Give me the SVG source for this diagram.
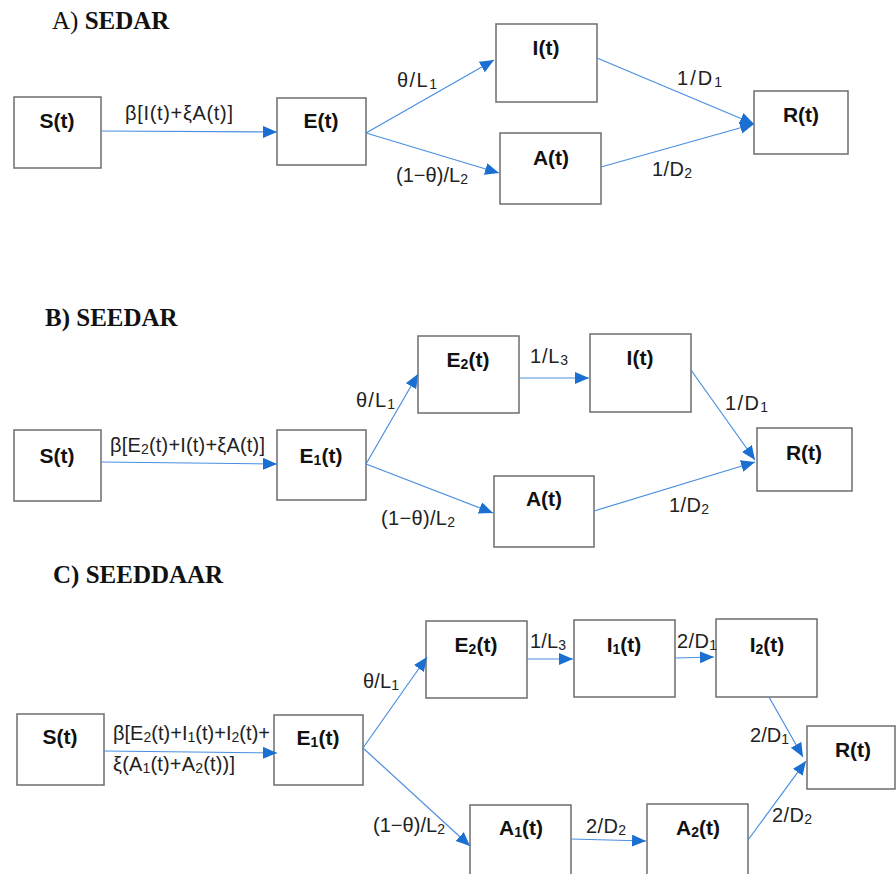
<svg xmlns="http://www.w3.org/2000/svg" width="896" height="874" viewBox="0 0 896 874">
<defs>
<marker id="ah" markerUnits="userSpaceOnUse" markerWidth="15" markerHeight="13" refX="14" refY="6" orient="auto">
<path d="M0,0 L14,6 L0,12 z" fill="#1a6fd0"/>
</marker>
<style>
.box{fill:#fff;stroke:#6d6d6d;stroke-width:1.5}
.nl{font-family:"Liberation Sans",Arial,sans-serif;font-weight:bold;font-size:21px;fill:#111;text-anchor:middle}
.el{font-family:"Liberation Sans",Arial,sans-serif;font-size:20px;fill:#222}
.sub{font-size:14px}
.ttl{font-family:"Liberation Serif","Times New Roman",serif;font-size:25px;fill:#111}
.b{font-weight:bold}
.cn line{stroke:#4a8fe0;stroke-width:1.2;marker-end:url(#ah)}
</style>
</defs>
<rect width="896" height="874" fill="#fff"/>

<!-- Titles -->
<text class="ttl" x="52" y="29">A)  <tspan class="b">SEDAR</tspan></text>
<text class="ttl b" x="45" y="326">B) SEEDAR</text>
<text class="ttl b" x="53" y="583">C) SEEDDAAR</text>

<!-- Section A nodes -->
<g id="A_S"><rect class="box" x="14" y="97" width="87" height="71"/><text class="nl" x="57" y="128">S(t)</text></g>
<g id="A_E"><rect class="box" x="277" y="98" width="89" height="67"/><text class="nl" x="321" y="128">E(t)</text></g>
<g id="A_I"><rect class="box" x="496" y="24" width="101" height="78"/><text class="nl" x="546" y="55">I(t)</text></g>
<g id="A_A"><rect class="box" x="500" y="133" width="101" height="71"/><text class="nl" x="551" y="165">A(t)</text></g>
<g id="A_R"><rect class="box" x="754" y="91" width="94" height="63"/><text class="nl" x="801" y="122">R(t)</text></g>

<!-- Section B nodes -->
<g id="B_S"><rect class="box" x="14" y="430" width="87" height="71"/><text class="nl" x="57" y="463">S(t)</text></g>
<g id="B_E1"><rect class="box" x="277" y="430" width="89" height="70"/><text class="nl" x="321" y="463">E<tspan class="sub" dy="2">1</tspan><tspan dy="-2">(t)</tspan></text></g>
<g id="B_E2"><rect class="box" x="418" y="336" width="101" height="77"/><text class="nl" x="468" y="367">E<tspan class="sub" dy="2">2</tspan><tspan dy="-2">(t)</tspan></text></g>
<g id="B_I"><rect class="box" x="590" y="334" width="101" height="78"/><text class="nl" x="640" y="365">I(t)</text></g>
<g id="B_A"><rect class="box" x="494" y="476" width="100" height="71"/><text class="nl" x="544" y="506">A(t)</text></g>
<g id="B_R"><rect class="box" x="757" y="428" width="95" height="63"/><text class="nl" x="804" y="460">R(t)</text></g>

<!-- Section C nodes -->
<g id="C_S"><rect class="box" x="17" y="714" width="87" height="71"/><text class="nl" x="60" y="744">S(t)</text></g>
<g id="C_E1"><rect class="box" x="274" y="715" width="89" height="70"/><text class="nl" x="318" y="745">E<tspan class="sub" dy="2">1</tspan><tspan dy="-2">(t)</tspan></text></g>
<g id="C_E2"><rect class="box" x="426" y="621" width="101" height="77"/><text class="nl" x="476" y="652">E<tspan class="sub" dy="2">2</tspan><tspan dy="-2">(t)</tspan></text></g>
<g id="C_I1"><rect class="box" x="574" y="620" width="101" height="77"/><text class="nl" x="624" y="652">I<tspan class="sub" dy="2">1</tspan><tspan dy="-2">(t)</tspan></text></g>
<g id="C_I2"><rect class="box" x="716" y="619" width="101" height="78"/><text class="nl" x="767" y="652">I<tspan class="sub" dy="2">2</tspan><tspan dy="-2">(t)</tspan></text></g>
<g id="C_A1"><rect class="box" x="470" y="805" width="101" height="80"/><text class="nl" x="521" y="835">A<tspan class="sub" dy="2">1</tspan><tspan dy="-2">(t)</tspan></text></g>
<g id="C_A2"><rect class="box" x="647" y="804" width="101" height="80"/><text class="nl" x="698" y="835">A<tspan class="sub" dy="2">2</tspan><tspan dy="-2">(t)</tspan></text></g>
<g id="C_R"><rect class="box" x="807" y="726" width="88" height="63"/><text class="nl" x="853" y="757">R(t)</text></g>

<!-- Connectors -->
<g id="connectors" class="cn">
<line x1="101" y1="131" x2="277" y2="132"/>
<line x1="366" y1="133" x2="494" y2="60"/>
<line x1="366" y1="133" x2="499" y2="173"/>
<line x1="597" y1="58" x2="754" y2="124"/>
<line x1="601" y1="167" x2="754" y2="124"/>

<line x1="101" y1="462" x2="277" y2="464"/>
<line x1="366" y1="464" x2="418" y2="374"/>
<line x1="366" y1="464" x2="493" y2="513"/>
<line x1="519" y1="378" x2="589" y2="378"/>
<line x1="691" y1="370" x2="755" y2="460"/>
<line x1="594" y1="511" x2="755" y2="462"/>

<line x1="104" y1="751" x2="277" y2="753"/>
<line x1="363" y1="748" x2="427" y2="657"/>
<line x1="363" y1="748" x2="470" y2="846"/>
<line x1="527" y1="659" x2="573" y2="659"/>
<line x1="675" y1="658" x2="714" y2="657"/>
<line x1="769" y1="697" x2="803" y2="757"/>
<line x1="571" y1="839" x2="646" y2="841"/>
<line x1="748" y1="840" x2="806" y2="761"/>
</g>

<!-- Edge labels -->
<g id="labels">
<text class="el" x="125" y="120" textLength="108">β[I(t)+ξA(t)]</text>
<text class="el" x="397" y="87" textLength="40">θ/L<tspan class="sub" dy="2">1</tspan></text>
<text class="el" x="396" y="182" textLength="72">(1−θ)/L<tspan class="sub" dy="2">2</tspan></text>
<text class="el" x="677" y="85" textLength="45">1/D<tspan class="sub" dy="2">1</tspan></text>
<text class="el" x="652" y="176" textLength="40">1/D<tspan class="sub" dy="2">2</tspan></text>

<text class="el" x="110" y="452" textLength="155">β[E<tspan class="sub" dy="2">2</tspan><tspan dy="-2">(t)+I(t)+ξA(t)]</tspan></text>
<text class="el" x="356" y="407" textLength="39">θ/L<tspan class="sub" dy="2">1</tspan></text>
<text class="el" x="381" y="525" textLength="74">(1−θ)/L<tspan class="sub" dy="2">2</tspan></text>
<text class="el" x="530" y="363" textLength="38">1/L<tspan class="sub" dy="2">3</tspan></text>
<text class="el" x="725" y="410" textLength="43">1/D<tspan class="sub" dy="2">1</tspan></text>
<text class="el" x="669" y="512" textLength="40">1/D<tspan class="sub" dy="2">2</tspan></text>

<text class="el" x="113" y="740" textLength="157">β[E<tspan class="sub" dy="2">2</tspan><tspan dy="-2">(t)+I</tspan><tspan class="sub" dy="2">1</tspan><tspan dy="-2">(t)+I</tspan><tspan class="sub" dy="2">2</tspan><tspan dy="-2">(t)+</tspan></text>
<text class="el" x="113" y="771" textLength="122">ξ(A<tspan class="sub" dy="2">1</tspan><tspan dy="-2">(t)+A</tspan><tspan class="sub" dy="2">2</tspan><tspan dy="-2">(t))]</tspan></text>
<text class="el" x="363" y="688" textLength="36">θ/L<tspan class="sub" dy="2">1</tspan></text>
<text class="el" x="373" y="832" textLength="72">(1−θ)/L<tspan class="sub" dy="2">2</tspan></text>
<text class="el" x="530" y="648" textLength="36">1/L<tspan class="sub" dy="2">3</tspan></text>
<text class="el" x="677" y="648" textLength="40">2/D<tspan class="sub" dy="2">1</tspan></text>
<text class="el" x="750" y="742" textLength="39">2/D<tspan class="sub" dy="2">1</tspan></text>
<text class="el" x="586" y="833" textLength="40">2/D<tspan class="sub" dy="2">2</tspan></text>
<text class="el" x="772" y="822" textLength="40">2/D<tspan class="sub" dy="2">2</tspan></text>
</g>
</svg>
